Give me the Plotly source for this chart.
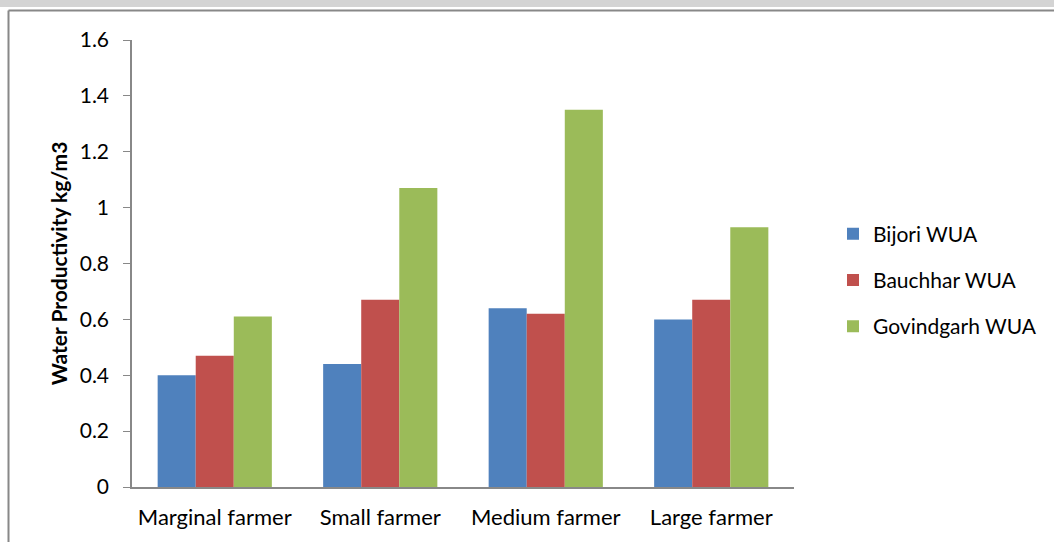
import plotly.graph_objects as go

# Farmer categories and water productivity (kg/m3) per Water User Association
categories = ["Marginal farmer", "Small farmer", "Medium farmer", "Large farmer"]
bijori = [0.40, 0.44, 0.64, 0.60]
bauchhar = [0.47, 0.67, 0.62, 0.67]
govindgarh = [0.61, 1.07, 1.35, 0.93]
series_names = ["Bijori WUA", "Bauchhar WUA", "Govindgarh WUA"]
colors = ["#4F81BD", "#C0504D", "#9BBB59"]

W, H = 1054, 542
L, R, T, B = 132, 260, 40, 55
pw, ph = W - L - R, H - T - B

def px(x):
    return (x - L) / pw

def py(y):
    return (H - B - y) / ph

FONT = "Lato"

fig = go.Figure()
for i, (name, vals, col) in enumerate(zip(series_names, [bijori, bauchhar, govindgarh], colors)):
    fig.add_trace(go.Bar(
        x=categories, y=vals, name=name, marker=dict(color=col, line=dict(width=0)),
        legendgroup=f"g{i}",
    ))

fig.update_layout(
    width=W, height=H,
    margin=dict(l=L, r=R, t=T, b=B, pad=0),
    paper_bgcolor="white", plot_bgcolor="white",
    barmode="group", bargap=0.31, bargroupgap=0,
    font=dict(family=FONT, size=20, color="#000000"),
    showlegend=True,
    legend=dict(x=px(833), y=py(280), xanchor="left", yanchor="middle",
                font=dict(family=FONT, size=21, color="#000000"),
                tracegroupgap=16, bgcolor="rgba(0,0,0,0)"),
    xaxis=dict(showline=True, linecolor="#888888", linewidth=1.5, ticks="",
               showgrid=False, tickfont=dict(size=22), ticklen=0,
               ticklabelstandoff=10),
    yaxis=dict(range=[0, 1.6], dtick=0.2, tick0=0, showline=True, linecolor="#888888",
               linewidth=1.5, ticks="outside", ticklen=7, tickcolor="#888888",
               showgrid=False, zeroline=False, tickfont=dict(size=21),
               tickformat="~g", ticklabelstandoff=10,
               title=dict(text="<b>Water Productivity kg/m3</b>", font=dict(size=21), standoff=6)),
    shapes=[
        # grey header band
        dict(type="rect", xref="paper", yref="paper", x0=px(0), x1=px(W), y0=py(7), y1=py(0),
             fillcolor="#D4D4D4", line=dict(width=0), layer="above"),
        # frame lines
        dict(type="line", xref="paper", yref="paper", x0=px(8.5), x1=px(W), y0=py(10.5), y1=py(10.5),
             line=dict(color="#888888", width=2)),
        dict(type="line", xref="paper", yref="paper", x0=px(8.5), x1=px(8.5), y0=py(10.5), y1=py(H),
             line=dict(color="#888888", width=2)),
    ],
)

fig.write_html("out.html")
